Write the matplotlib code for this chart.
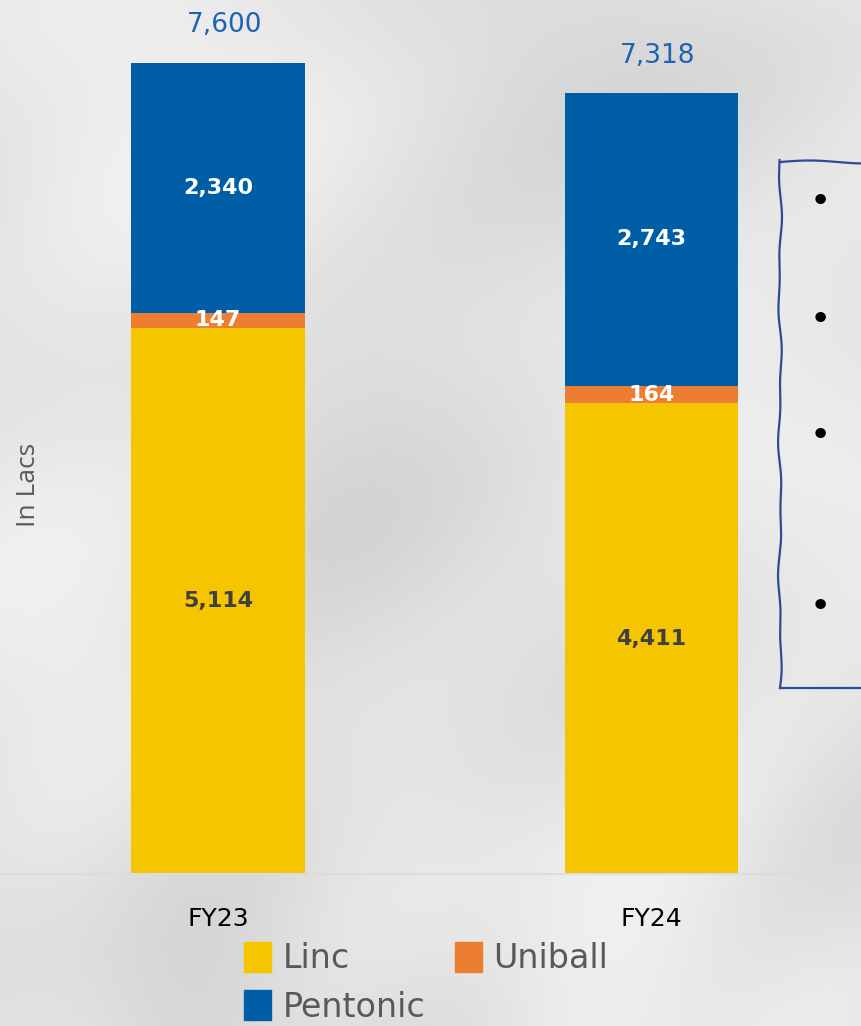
import numpy as np
import matplotlib.pyplot as plt
from matplotlib.patches import Patch

# ======================== 数据 ========================
years = ['FY23', 'FY24']
linc = [5114, 4411]
uniball = [147, 164]
pentonic = [2340, 2743]
totals = [7600, 7318]

c_linc = '#F5C500'
c_uni = '#ED7D31'
c_pen = '#005EA6'
hand = ['Liberation Sans Narrow', 'DejaVu Sans']

fig = plt.figure(figsize=(8.61, 10.26), dpi=100)

# background (soft grey marble-ish)
bg = fig.add_axes([0, 0, 1, 1], zorder=-10)
yy, xx = np.mgrid[0:1:300j, 0:1:260j]
tex = (0.5 * np.sin(7 * xx + 3 * yy) + 0.4 * np.sin(11 * yy - 5 * xx + 1.3)
       + 0.3 * np.sin(17 * xx * yy + 4 * xx) + 0.2 * np.cos(23 * yy + 9 * xx))
tex = (tex - tex.min()) / (tex.max() - tex.min())
g = 0.83 + 0.12 * tex
bg.imshow(np.dstack([g, g, g]), aspect='auto', extent=[0, 1, 0, 1])
bg.axis('off')

ax = fig.add_axes([0, 0.148, 1, 0.852])
ax.patch.set_alpha(0)
x = np.arange(len(years))
w = 0.4
ax.bar(x, linc, w, color=c_linc, label='Linc')
ax.bar(x, uniball, w, bottom=linc, color=c_uni, label='Uniball')
bot3 = np.array(linc) + np.array(uniball)
ax.bar(x, pentonic, w, bottom=bot3, color=c_pen, label='Pentonic')

ax.set_xlim(-0.503, 1.483)
ax.set_ylim(0, 8190)
for s in ['top', 'right', 'left']:
    ax.spines[s].set_visible(False)
ax.spines['bottom'].set_color('#DCDCDC')
ax.spines['bottom'].set_linewidth(1.5)
ax.set_yticks([])
ax.set_xticks(x)
ax.set_xticklabels(years, family=hand, fontsize=18, color='black')
ax.tick_params(axis='x', length=0, pad=24)

# segment labels
lab = dict(ha='center', va='center', family='DejaVu Sans', fontweight='bold', fontsize=16)
for i in range(len(years)):
    ax.text(x[i], linc[i] / 2, f'{linc[i]:,}', color='#404040', **lab)
    ax.text(x[i], linc[i] + uniball[i] / 2, f'{uniball[i]:,}', color='white', **lab)
    ax.text(x[i], bot3[i] + pentonic[i] / 2, f'{pentonic[i]:,}', color='white', **lab)
    ax.text(x[i] + 0.015, totals[i] + 230, f'{totals[i]:,}', ha='center', va='bottom',
            family=hand, fontsize=19, color='#1F63B0')

fig.text(0.033, 0.527, 'In Lacs', rotation=90, ha='center', va='center',
         family='Open Sans', fontsize=19, color='#595959')

# legend
handles = [Patch(color=c_linc, label='Linc'), Patch(color=c_pen, label='Pentonic'),
           Patch(color=c_uni, label='Uniball')]
fig.legend(handles=handles, loc='upper left', bbox_to_anchor=(0.268, 0.095), ncol=2,
           frameon=False, prop={'family': hand, 'size': 24}, labelcolor='#595959',
           handlelength=0.8, handleheight=1.0, handletextpad=0.35,
           columnspacing=0.9, labelspacing=0.45, borderaxespad=0)

# side note box (wobbly outline)
W, H = 861, 1026
t = np.linspace(0, 1, 200)
left = 780 + 1.2 * np.sin(t * 23) + 0.8 * np.sin(t * 51)
ys = 688 - t * 528
fig.add_artist(plt.Line2D(left / W, 1 - ys / H, color='#2E4B97', lw=1.6))
tx = np.linspace(0, 1, 30)
fig.add_artist(plt.Line2D((781 + tx * 90) / W, 1 - (162 - 1.5 * np.sin(tx * 5)) / H,
                          color='#2E4B97', lw=1.6))
fig.add_artist(plt.Line2D((780 + tx * 90) / W, 1 - np.full_like(tx, 688) / H,
                          color='#2E4B97', lw=1.6))
for yb in [202, 320, 436, 607]:
    fig.text(820 / W, 1 - yb / H, '•', ha='center', va='center', fontsize=26, color='black')

fig.savefig('out.png', dpi=100)
